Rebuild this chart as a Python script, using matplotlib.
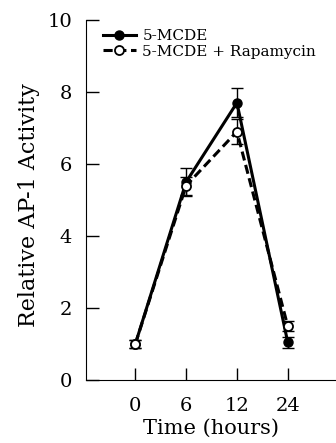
import matplotlib
matplotlib.use('Agg')
import matplotlib.pyplot as plt

times = ['0', '6', '12', '24']
mcde = [1.0, 5.5, 7.7, 1.05]
mcde_err = [0.1, 0.4, 0.4, 0.15]
rapa = [1.0, 5.4, 6.9, 1.5]
rapa_err = [0.1, 0.25, 0.35, 0.15]

plt.rcParams['font.family'] = ['DejaVu Serif']

fig = plt.figure(figsize=(3.36, 4.43), dpi=100)
ax = fig.add_axes([0.256, 0.142, 0.744, 0.813])

x = list(range(len(times)))
# error bars first, then lines with markers on top
ax.errorbar(x, mcde, yerr=mcde_err, fmt='none', ecolor='black', capsize=4,
            elinewidth=1, capthick=1, zorder=1)
ax.errorbar(x, rapa, yerr=rapa_err, fmt='none', ecolor='black', capsize=4,
            elinewidth=1, capthick=1, zorder=1)
ax.plot(x, mcde, color='black', lw=2.2, marker='o', ms=6.5, mfc='black',
        mec='black', label='5-MCDE', zorder=2)
ax.plot(x, rapa, color='black', lw=2.2, ls='--', dashes=(3, 1.5), marker='o',
        ms=6.5, mfc='white', mec='black', mew=1.3, label='5-MCDE + Rapamycin', zorder=3)

ax.set_xlim(-0.97, 3.95)
ax.set_ylim(0, 10)
ax.set_xticks(x)
ax.set_xticklabels(times)
ax.set_yticks([0, 2, 4, 6, 8, 10])
ax.tick_params(direction='in', length=9, width=1, labelsize=14)
ax.tick_params(axis='x', pad=12)
ax.tick_params(axis='y', pad=10)
ax.spines['top'].set_visible(False)
ax.spines['right'].set_visible(False)
ax.set_xlabel('Time (hours)', fontsize=15, labelpad=3)
ax.set_ylabel('Relative AP-1 Activity', fontsize=16)
ax.yaxis.set_label_coords(-0.184, 0.486)

ax.legend(loc='upper left', frameon=False, fontsize=11, handlelength=2.2,
          handletextpad=0.4, borderaxespad=0.2, labelspacing=0.1,
          bbox_to_anchor=(0.03, 1.0))

fig.savefig('out.png', dpi=100)
